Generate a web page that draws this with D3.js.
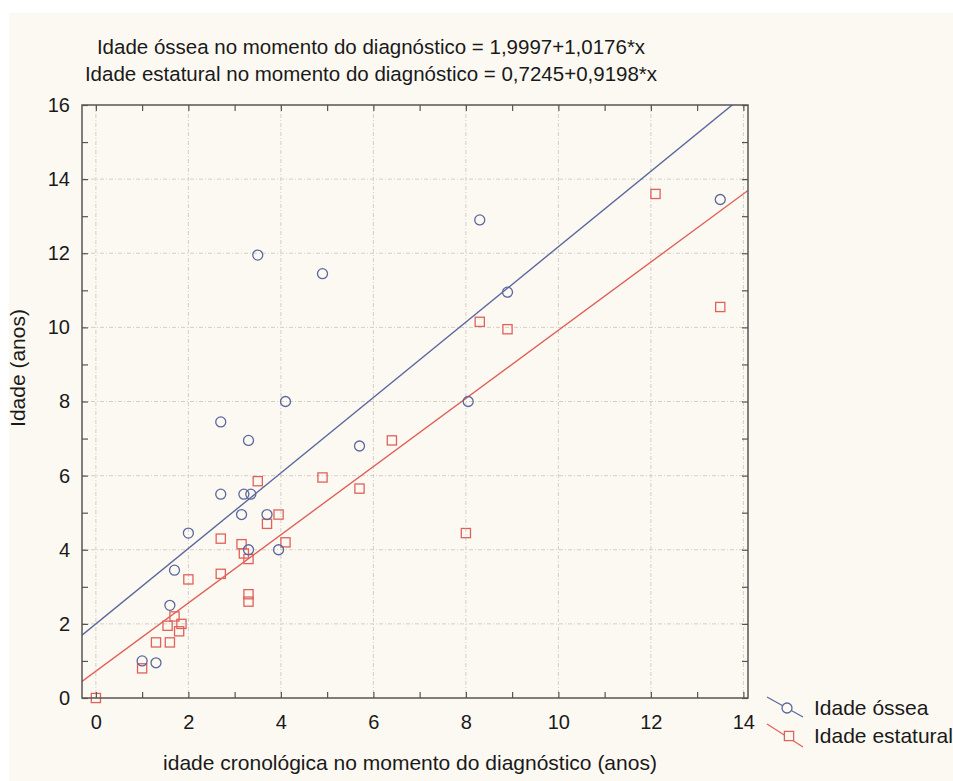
<!DOCTYPE html>
<html>
<head>
<meta charset="utf-8">
<script src="https://cdn.jsdelivr.net/npm/d3@7"></script>
<style>
  html, body { margin: 0; padding: 0; background: #ffffff; }
  svg { display: block; }
  text { font-family: "Liberation Sans", Arial, sans-serif; fill: #1a1a1a; }
</style>
</head>
<body>
<svg id="chart" width="953" height="781"></svg>
<script>
// Chronological age at diagnosis (years) with bone age and height age
const boneX = [13.5, 8.3, 8.9, 3.5, 4.9, 8.05, 4.1, 2.7, 3.3, 5.7, 2.7, 3.2, 3.35, 3.15, 3.7, 2.0, 3.3, 3.95, 1.7, 1.6, 1.0, 1.3];
const boneY = [13.45, 12.9, 10.95, 11.95, 11.45, 8.0, 8.0, 7.45, 6.95, 6.8, 5.5, 5.5, 5.5, 4.95, 4.95, 4.45, 4.0, 4.0, 3.45, 2.5, 1.0, 0.95];

const heightX = [12.1, 13.5, 8.3, 8.9, 6.4, 4.9, 5.7, 3.5, 8.0, 3.95, 3.7, 4.1, 2.7, 3.15, 3.2, 3.3, 2.0, 2.7, 3.3, 3.3, 1.7, 1.55, 1.85, 1.8, 1.3, 1.6, 1.0, 0.0];
const heightY = [13.6, 10.55, 10.15, 9.95, 6.95, 5.95, 5.65, 5.85, 4.45, 4.95, 4.7, 4.2, 4.3, 4.15, 3.9, 3.75, 3.2, 3.35, 2.8, 2.6, 2.2, 1.95, 2.0, 1.8, 1.5, 1.5, 0.8, 0.0];

// Fitted regression lines: intercept, slope
const boneFit = [1.9997, 1.0176];
const heightFit = [0.7245, 0.9198];

const titleLines = [
  "Idade óssea no momento do diagnóstico = 1,9997+1,0176*x",
  "Idade estatural no momento do diagnóstico = 0,7245+0,9198*x"
];
const xTicks = [0, 2, 4, 6, 8, 10, 12, 14];
const yTicks = [0, 2, 4, 6, 8, 10, 12, 14, 16];
const legendLabels = ["Idade óssea", "Idade estatural"];

const blue = "#5b679e";
const red = "#e0625a";
const panel = "#fcf9f2";

const svg = d3.select("#chart");

// panel background
svg.append("rect").attr("x", 9).attr("y", 13).attr("width", 944).attr("height", 768)
  .attr("fill", panel);

const plotL = 82, plotR = 748, plotT = 105, plotB = 698;
const x = d3.scaleLinear().domain([-0.3, 14.1]).range([plotL, plotR]);
const y = d3.scaleLinear().domain([0, 16]).range([plotB, plotT]);

// grid
const grid = svg.append("g").attr("stroke", "#d2cfc8").attr("stroke-width", 1)
  .attr("stroke-dasharray", "4,2,1,2");
grid.selectAll(".gx").data(xTicks).join("line")
  .attr("x1", d => x(d)).attr("x2", d => x(d)).attr("y1", plotT).attr("y2", plotB);
grid.selectAll(".gy").data(yTicks.slice(1, -1)).join("line")
  .attr("x1", plotL).attr("x2", plotR).attr("y1", d => y(d)).attr("y2", d => y(d));

// regression lines
svg.append("clipPath").attr("id", "plotClip").append("rect")
  .attr("x", plotL).attr("y", plotT).attr("width", plotR - plotL).attr("height", plotB - plotT);
const lineGen = d3.line().x(d => x(d[0])).y(d => y(d[1]));
const fitPoints = f => x.domain().map(v => [v, f[0] + f[1] * v]);
const lines = svg.append("g").attr("clip-path", "url(#plotClip)");
lines.append("path").attr("d", lineGen(fitPoints(boneFit)))
  .attr("fill", "none").attr("stroke", blue).attr("stroke-width", 1.4);
lines.append("path").attr("d", lineGen(fitPoints(heightFit)))
  .attr("fill", "none").attr("stroke", red).attr("stroke-width", 1.4);

// markers
const marks = svg.append("g");
marks.selectAll(".sq").data(heightX.map((v, i) => [v, heightY[i]])).join("rect")
  .attr("x", d => x(d[0]) - 4.6).attr("y", d => y(d[1]) - 4.6)
  .attr("width", 9.2).attr("height", 9.2)
  .attr("fill", "none").attr("stroke", red).attr("stroke-width", 1.3);
marks.selectAll(".ci").data(boneX.map((v, i) => [v, boneY[i]])).join("circle")
  .attr("cx", d => x(d[0])).attr("cy", d => y(d[1])).attr("r", 5)
  .attr("fill", "none").attr("stroke", blue).attr("stroke-width", 1.3);

// axes with inward ticks
const minorX = d3.range(0, 15, 1);
const minorY = d3.range(0, 17, 1);
function styleAxis(g) {
  g.select(".domain").remove();
  g.selectAll(".tick line").attr("stroke", "#555").attr("stroke-width", 1.2);
  g.selectAll(".tick text").attr("font-size", 20).attr("fill", "#1a1a1a")
    .attr("font-family", "'Liberation Sans', Arial, sans-serif");
}
svg.append("g").attr("transform", `translate(0,${plotB})`)
  .call(d3.axisBottom(x).tickValues(minorX).tickSize(-6).tickFormat(""))
  .call(styleAxis);
svg.append("g").attr("transform", `translate(0,${plotB})`)
  .call(d3.axisBottom(x).tickValues(xTicks).tickSize(0).tickPadding(17).tickFormat(d3.format("d")))
  .call(styleAxis);
svg.append("g").attr("transform", `translate(0,${plotT})`)
  .call(d3.axisTop(x).tickValues(minorX).tickSize(-6).tickFormat(""))
  .call(styleAxis);
svg.append("g").attr("transform", `translate(${plotL},0)`)
  .call(d3.axisLeft(y).tickValues(minorY).tickSize(-6).tickFormat(""))
  .call(styleAxis);
svg.append("g").attr("transform", `translate(${plotL},0)`)
  .call(d3.axisLeft(y).tickValues(yTicks).tickSize(0).tickPadding(12).tickFormat(d3.format("d")))
  .call(styleAxis);
svg.append("g").attr("transform", `translate(${plotR},0)`)
  .call(d3.axisRight(y).tickValues(minorY).tickSize(-6).tickFormat(""))
  .call(styleAxis);

// frame
svg.append("rect").attr("x", plotL).attr("y", plotT).attr("width", plotR - plotL).attr("height", plotB - plotT)
  .attr("fill", "none").attr("stroke", "#555").attr("stroke-width", 1.5);

// titles
svg.selectAll(".title").data(titleLines).join("text")
  .attr("x", 371).attr("y", (d, i) => 54 + i * 27)
  .attr("text-anchor", "middle").attr("font-size", 20.5).text(d => d);

svg.append("text").attr("x", 410).attr("y", 770).attr("text-anchor", "middle")
  .attr("font-size", 21).text("idade cronológica no momento do diagnóstico (anos)");

svg.append("text").attr("transform", "translate(25,368) rotate(-90)")
  .attr("text-anchor", "middle").attr("font-size", 21).text("Idade (anos)");

// legend
const legend = svg.append("g");
const legY = [707, 735];
legend.append("line").attr("x1", 767).attr("y1", legY[0] - 10).attr("x2", 803).attr("y2", legY[0] + 10)
  .attr("stroke", blue).attr("stroke-width", 1.2);
legend.append("circle").attr("cx", 787).attr("cy", legY[0] + 1).attr("r", 5)
  .attr("fill", panel).attr("stroke", blue).attr("stroke-width", 1.3);
legend.append("line").attr("x1", 767).attr("y1", legY[1] - 11).attr("x2", 803).attr("y2", legY[1] + 12)
  .attr("stroke", red).attr("stroke-width", 1.2);
legend.append("rect").attr("x", 784.4).attr("y", legY[1] - 3.6).attr("width", 9.2).attr("height", 9.2)
  .attr("fill", panel).attr("stroke", red).attr("stroke-width", 1.3);
legend.selectAll(".lt").data(legendLabels).join("text")
  .attr("x", 814).attr("y", (d, i) => legY[i] + 1).attr("dy", "0.35em")
  .attr("font-size", 21).text(d => d);
</script>
</body>
</html>
